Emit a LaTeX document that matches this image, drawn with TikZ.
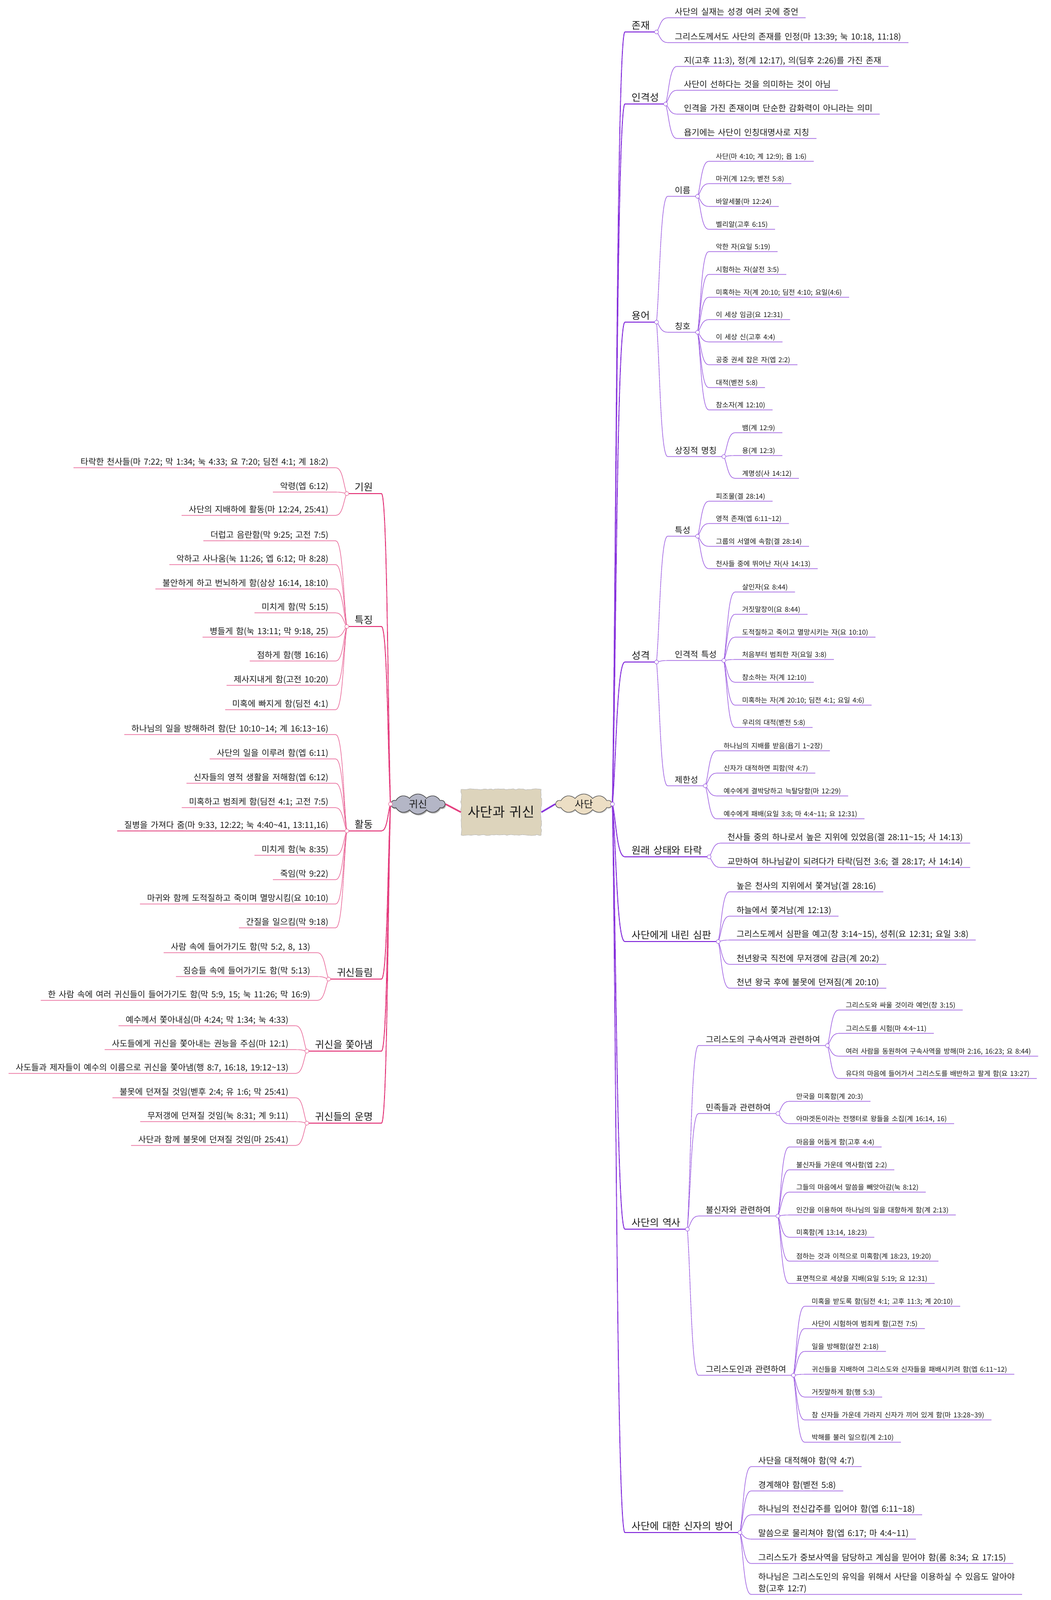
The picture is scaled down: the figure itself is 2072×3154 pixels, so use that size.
\documentclass[tikz,border=0pt]{standalone}
\usepackage{fontspec}
\setmainfont{Noto Sans CJK KR}[WordSpace=1.6]
\usetikzlibrary{calc,shapes.symbols,shadows,decorations.pathmorphing}

\definecolor{satan}{RGB}{155,90,225}
\definecolor{satandark}{RGB}{135,50,220}
\definecolor{demon}{RGB}{232,100,150}
\definecolor{demondark}{RGB}{228,60,125}
\definecolor{paper}{RGB}{221,212,188}
\definecolor{satanfill}{RGB}{236,222,196}
\definecolor{demonfill}{RGB}{180,182,198}
\definecolor{ink}{RGB}{25,25,25}

\newcommand\tld{\textasciitilde}

\begin{document}
\begin{tikzpicture}[x=1pt,y=-1pt,
	branch/.style={to path={.. controls ($(\tikztostart)!0.3!(\tikztotarget)$) and ($(\tikztostart |- \tikztotarget)!0.35!(\tikztotarget)$) .. (\tikztotarget)}},
	big/.style={font=\fontsize{19.5}{23}\selectfont, text=ink, text height=15pt, text depth=4pt, inner xsep=13pt, inner ysep=1.5pt},
	mid/.style={font=\fontsize{16.6}{19}\selectfont, text=ink, text height=12.5pt, text depth=3.5pt, inner xsep=14pt, inner ysep=1.5pt},
	small/.style={font=\fontsize{13.5}{16}\selectfont, text=ink, text height=10pt, text depth=3pt, inner xsep=14pt, inner ysep=1.5pt},
	rnode/.style={anchor=south west},
	lnode/.style={anchor=south east},
	sline/.style={satan, line width=1.1pt},
	strunk/.style={satandark, line width=1.8pt},
	dline/.style={demon, line width=1.1pt},
	dtrunk/.style={demondark, line width=1.8pt},
	hubdot/.style={circle, draw=#1, fill=white, line width=0.8pt, inner sep=0pt, minimum size=8pt}]
\useasboundingbox (0,0) rectangle (2072,3154);

% centre and the two clouds
\node[fill=paper, draw=gray!55, line width=0.8pt, minimum width=158pt, minimum height=90pt,
	decorate, decoration={random steps, segment length=5pt, amplitude=1.2pt},
	font=\fontsize{26.5}{30}\selectfont, text=ink] (main) at (988,1601) {사단과 귀신};
\node[cloud, cloud puffs=10, cloud puff arc=110, aspect=2.8, minimum width=110pt, minimum height=40pt, inner sep=0pt,
	draw=gray!60!black, fill=satanfill, line width=1pt, drop shadow={shadow xshift=1.5pt, shadow yshift=-2pt, fill=gray!55},
	font=\fontsize{19.5}{22}\selectfont, text=ink] (sadan) at (1151,1585) {사단};
\node[cloud, cloud puffs=10, cloud puff arc=110, aspect=2.8, minimum width=106pt, minimum height=40pt, inner sep=0pt,
	draw=gray!40!black, fill=demonfill, line width=1pt, drop shadow={shadow xshift=1.5pt, shadow yshift=-2.5pt, fill=gray!75!black},
	font=\fontsize{19.5}{22}\selectfont, text=ink] (gwisin) at (824,1585) {귀신};
\draw[demondark, line width=3pt] (gwisin.east) -- (main.west);
\draw[satandark, line width=3pt] (main.east) -- (sadan.west);
\coordinate (rhub) at (sadan.east);
\coordinate (lhub) at (gwisin.west);

% ---------- 사단 ----------

% 존재
\node[big, rnode] (jonjae) at (1232,63) {존재};
\draw[strunk] (rhub) to[branch] (jonjae.south west) -- (jonjae.south east);
\foreach \y/\txt [count=\i] in {35/{사단의 실재는 성경 여러 곳에 증언},
	84/{그리스도께서도 사단의 존재를 인정(마 13:39; 눅 10:18, 11:18)}} {
	\node[mid, rnode] (jonjae-\i) at ($(jonjae.south east |- 0,\y)+(22,0)$) {\txt};
	\draw[sline] (jonjae.south east) to[branch] (jonjae-\i.south west) -- (jonjae-\i.south east);
}

% 인격성
\node[big, rnode] (ingyeok) at (1232,205) {인격성};
\draw[strunk] (rhub) to[branch] (ingyeok.south west) -- (ingyeok.south east);
\foreach \y/\txt [count=\i] in {131/{지(고후 11:3), 정(계 12:17), 의(딤후 2:26)를 가진 존재},
	178/{사단이 선하다는 것을 의미하는 것이 아님},
	225/{인격을 가진 존재이며 단순한 감화력이 아니라는 의미},
	273/{욥기에는 사단이 인칭대명사로 지칭}} {
	\node[mid, rnode] (ingyeok-\i) at ($(ingyeok.south east |- 0,\y)+(22,0)$) {\txt};
	\draw[sline] (ingyeok.south east) to[branch] (ingyeok-\i.south west) -- (ingyeok-\i.south east);
}

% 용어
\node[big, rnode] (yongeo) at (1232,635) {용어};
\draw[strunk] (rhub) to[branch] (yongeo.south west) -- (yongeo.south east);
\foreach \nm/\y/\txt in {ireum/387/이름, chingho/655/칭호, sangjing/900/상징적 명칭} {
	\node[mid, rnode] (\nm) at ($(yongeo.south east |- 0,\y)+(22,0)$) {\txt};
	\draw[sline] (yongeo.south east) to[branch] (\nm.south west) -- (\nm.south east);
}
\foreach \y/\txt [count=\i] in {318/{사단(마 4:10; 계 12:9); 욥 1:6)}, 362/{마귀(계 12:9; 벧전 5:8)},
	407/{바알세불(마 12:24)}, 452/{벨리알(고후 6:15)}} {
	\node[small, rnode] (ireum-\i) at ($(ireum.south east |- 0,\y)+(22,0)$) {\txt};
	\draw[sline] (ireum.south east) to[branch] (ireum-\i.south west) -- (ireum-\i.south east);
}
\foreach \y/\txt [count=\i] in {496/{악한 자(요일 5:19)}, 541/{시험하는 자(살전 3:5)},
	586/{미혹하는 자(계 20:10; 딤전 4:10; 요일(4:6)}, 630/{이 세상 임금(요 12:31)},
	674/{이 세상 신(고후 4:4)}, 719/{공중 권세 잡은 자(엡 2:2)},
	764/{대적(벧전 5:8)}, 808/{참소자(계 12:10)}} {
	\node[small, rnode] (chingho-\i) at ($(chingho.south east |- 0,\y)+(22,0)$) {\txt};
	\draw[sline] (chingho.south east) to[branch] (chingho-\i.south west) -- (chingho-\i.south east);
}
\foreach \y/\txt [count=\i] in {853/{뱀(계 12:9)}, 898/{용(계 12:3)}, 943/{계명성(사 14:12)}} {
	\node[small, rnode] (sangjing-\i) at ($(sangjing.south east |- 0,\y)+(22,0)$) {\txt};
	\draw[sline] (sangjing.south east) to[branch] (sangjing-\i.south west) -- (sangjing-\i.south east);
}

% 성격
\node[big, rnode] (seonggyeok) at (1232,1305) {성격};
\draw[strunk] (rhub) to[branch] (seonggyeok.south west) -- (seonggyeok.south east);
\foreach \nm/\y/\txt in {teukseong/1057/특성, ingyeokteuk/1302/인격적 특성, jehan/1549/제한성} {
	\node[mid, rnode] (\nm) at ($(seonggyeok.south east |- 0,\y)+(22,0)$) {\txt};
	\draw[sline] (seonggyeok.south east) to[branch] (\nm.south west) -- (\nm.south east);
}
\foreach \y/\txt [count=\i] in {988/{피조물(겔 28:14)}, 1032/{영적 존재(엡 6:11\tld12)},
	1077/{그룹의 서열에 속함(겔 28:14)}, 1121/{천사들 중에 뛰어난 자(사 14:13)}} {
	\node[small, rnode] (teukseong-\i) at ($(teukseong.south east |- 0,\y)+(22,0)$) {\txt};
	\draw[sline] (teukseong.south east) to[branch] (teukseong-\i.south west) -- (teukseong-\i.south east);
}
\foreach \y/\txt [count=\i] in {1167/{살인자(요 8:44)}, 1211/{거짓말장이(요 8:44)},
	1256/{도적질하고 죽이고 멸망시키는 자(요 10:10)}, 1300/{처음부터 범죄한 자(요일 3:8)},
	1345/{참소하는 자(계 12:10)}, 1390/{미혹하는 자(계 20:10; 딤전 4:1; 요일 4:6)},
	1434/{우리의 대적(벧전 5:8)}} {
	\node[small, rnode] (ingyeokteuk-\i) at ($(ingyeokteuk.south east |- 0,\y)+(22,0)$) {\txt};
	\draw[sline] (ingyeokteuk.south east) to[branch] (ingyeokteuk-\i.south west) -- (ingyeokteuk-\i.south east);
}
\foreach \y/\txt [count=\i] in {1480/{하나님의 지배를 받음(욥기 1\tld2장)}, 1524/{신자가 대적하면 피함(약 4:7)},
	1569/{예수에게 결박당하고 늑탈당함(마 12:29)}, 1614/{예수에게 패배(요일 3:8; 마 4:4\tld11; 요 12:31)}} {
	\node[small, rnode] (jehan-\i) at ($(jehan.south east |- 0,\y)+(22,0)$) {\txt};
	\draw[sline] (jehan.south east) to[branch] (jehan-\i.south west) -- (jehan-\i.south east);
}

% 원래 상태와 타락
\node[big, rnode] (wonrae) at (1232,1689) {원래 상태와 타락};
\draw[strunk] (rhub) to[branch] (wonrae.south west) -- (wonrae.south east);
\foreach \y/\txt [count=\i] in {1662/{천사들 중의 하나로서 높은 지위에 있었음(겔 28:11\tld15; 사 14:13)},
	1710/{교만하여 하나님같이 되려다가 타락(딤전 3:6; 겔 28:17; 사 14:14)}} {
	\node[mid, rnode] (wonrae-\i) at ($(wonrae.south east |- 0,\y)+(22,0)$) {\txt};
	\draw[sline] (wonrae.south east) to[branch] (wonrae-\i.south west) -- (wonrae-\i.south east);
}

% 사단에게 내린 심판
\node[big, rnode] (simpan) at (1232,1856) {사단에게 내린 심판};
\draw[strunk] (rhub) to[branch] (simpan.south west) -- (simpan.south east);
\foreach \y/\txt [count=\i] in {1758/{높은 천사의 지위에서 쫓겨남(겔 28:16)}, 1806/{하늘에서 쫓겨남(계 12:13)},
	1853/{그리스도께서 심판을 예고(창 3:14\tld15), 성취(요 12:31; 요일 3:8)},
	1901/{천년왕국 직전에 무저갱에 감금(계 20:2)}, 1948/{천년 왕국 후에 불못에 던져짐(계 20:10)}} {
	\node[mid, rnode] (simpan-\i) at ($(simpan.south east |- 0,\y)+(22,0)$) {\txt};
	\draw[sline] (simpan.south east) to[branch] (simpan-\i.south west) -- (simpan-\i.south east);
}

% 사단의 역사
\node[big, rnode] (yeoksa) at (1232,2423) {사단의 역사};
\draw[strunk] (rhub) to[branch] (yeoksa.south west) -- (yeoksa.south east);
\foreach \nm/\y/\txt in {guseok/2061/그리스도의 구속사역과 관련하여, minjok/2195/민족들과 관련하여,
	bulsin/2397/불신자와 관련하여, sindo/2711/그리스도인과 관련하여} {
	\node[mid, rnode] (\nm) at ($(yeoksa.south east |- 0,\y)+(22,0)$) {\txt};
	\draw[sline] (yeoksa.south east) to[branch] (\nm.south west) -- (\nm.south east);
}
\foreach \y/\txt [count=\i] in {1991/{그리스도와 싸울 것이라 예언(창 3:15)}, 2037/{그리스도를 시험(마 4:4\tld11)},
	2082/{여러 사람을 동원하여 구속사역을 방해(마 2:16, 16:23; 요 8:44)},
	2126/{유다의 마음에 들어가서 그리스도를 배반하고 팔게 함(요 13:27)}} {
	\node[small, rnode] (guseok-\i) at ($(guseok.south east |- 0,\y)+(22,0)$) {\txt};
	\draw[sline] (guseok.south east) to[branch] (guseok-\i.south west) -- (guseok-\i.south east);
}
\foreach \y/\txt [count=\i] in {2171/{만국을 미혹함(계 20:3)}, 2215/{아마겟돈이라는 전쟁터로 왕들을 소집(계 16:14, 16)}} {
	\node[small, rnode] (minjok-\i) at ($(minjok.south east |- 0,\y)+(22,0)$) {\txt};
	\draw[sline] (minjok.south east) to[branch] (minjok-\i.south west) -- (minjok-\i.south east);
}
\foreach \y/\txt [count=\i] in {2261/{마음을 어둡게 함(고후 4:4)}, 2306/{불신자들 가운데 역사함(엡 2:2)},
	2350/{그들의 마음에서 말씀을 빼앗아감(눅 8:12)}, 2395/{인간을 이용하여 하나님의 일을 대항하게 함(계 2:13)},
	2439/{미혹함(계 13:14, 18:23)}, 2486/{점하는 것과 이적으로 미혹함(계 18:23, 19:20)},
	2530/{표면적으로 세상을 지배(요일 5:19; 요 12:31)}} {
	\node[small, rnode] (bulsin-\i) at ($(bulsin.south east |- 0,\y)+(22,0)$) {\txt};
	\draw[sline] (bulsin.south east) to[branch] (bulsin-\i.south west) -- (bulsin-\i.south east);
}
\foreach \y/\txt [count=\i] in {2575/{미혹을 받도록 함(딤전 4:1; 고후 11:3; 계 20:10)}, 2619/{사단이 시험하여 범죄케 함(고전 7:5)},
	2664/{일을 방해함(살전 2:18)}, 2709/{귀신들을 지배하여 그리스도와 신자들을 패배시키려 함(엡 6:11\tld12)},
	2754/{거짓말하게 함(행 5:3)}, 2799/{참 신자들 가운데 가라지 신자가 끼어 있게 함(마 13:28\tld39)},
	2843/{박해를 불러 일으킴(계 2:10)}} {
	\node[small, rnode] (sindo-\i) at ($(sindo.south east |- 0,\y)+(22,0)$) {\txt};
	\draw[sline] (sindo.south east) to[branch] (sindo-\i.south west) -- (sindo-\i.south east);
}

% 사단에 대한 신자의 방어
\node[big, rnode] (bangeo) at (1232,3021) {사단에 대한 신자의 방어};
\draw[strunk] (rhub) to[branch] (bangeo.south west) -- (bangeo.south east);
\foreach \y/\txt [count=\i] in {2891/{사단을 대적해야 함(약 4:7)}, 2939/{경계해야 함(벧전 5:8)},
	2986/{하나님의 전신갑주를 입어야 함(엡 6:11\tld18)}, 3034/{말씀으로 물리쳐야 함(엡 6:17; 마 4:4\tld11)},
	3082/{그리스도가 중보사역을 담당하고 계심을 믿어야 함(롬 8:34; 요 17:15)}} {
	\node[mid, rnode] (bangeo-\i) at ($(bangeo.south east |- 0,\y)+(22,0)$) {\txt};
	\draw[sline] (bangeo.south east) to[branch] (bangeo-\i.south west) -- (bangeo-\i.south east);
}
\node[rnode, font=\fontsize{16.6}{23}\selectfont, text=ink, align=left, inner xsep=14pt, inner ysep=2pt] (bangeo-6)
	at ($(bangeo.south east |- 0,3143)+(22,0)$) {하나님은 그리스도인의 유익을 위해서 사단을 이용하실 수 있음도 알아야\\함(고후 12:7)};
\draw[sline] (bangeo.south east) to[branch] (bangeo-6.south west) -- (bangeo-6.south east);

\foreach \nm in {jonjae, ingyeok, yongeo, ireum, chingho, sangjing, seonggyeok, teukseong, ingyeokteuk, jehan,
	wonrae, simpan, yeoksa, guseok, minjok, bulsin, sindo, bangeo}
	\node[hubdot=satan] at (\nm.south east) {};

% ---------- 귀신 ----------

% 기원
\node[big, lnode, inner xsep=16pt] (giwon) at (752,973) {기원};
\draw[dtrunk] (lhub) to[branch] (giwon.south east) -- (giwon.south west);
\foreach \y/\txt [count=\i] in {922/{타락한 천사들(마 7:22; 막 1:34; 눅 4:33; 요 7:20; 딤전 4:1; 계 18:2)},
	970/{악령(엡 6:12)}, 1016/{사단의 지배하에 활동(마 12:24, 25:41)}} {
	\node[mid, lnode] (giwon-\i) at ($(giwon.south west |- 0,\y)+(-22,0)$) {\txt};
	\draw[dline] (giwon.south west) to[branch] (giwon-\i.south east) -- (giwon-\i.south west);
}

% 특징
\node[big, lnode, inner xsep=16pt] (teukjing) at (752,1235) {특징};
\draw[dtrunk] (lhub) to[branch] (teukjing.south east) -- (teukjing.south west);
\foreach \y/\txt [count=\i] in {1066/{더럽고 음란함(막 9:25; 고전 7:5)}, 1113/{악하고 사나움(눅 11:26; 엡 6:12; 마 8:28)},
	1161/{불안하게 하고 번뇌하게 함(삼상 16:14, 18:10)}, 1208/{미치게 함(막 5:15)},
	1256/{병들게 함(눅 13:11; 막 9:18, 25)}, 1303/{점하게 함(행 16:16)},
	1351/{제사지내게 함(고전 10:20)}, 1399/{미혹에 빠지게 함(딤전 4:1)}} {
	\node[mid, lnode] (teukjing-\i) at ($(teukjing.south west |- 0,\y)+(-22,0)$) {\txt};
	\draw[dline] (teukjing.south west) to[branch] (teukjing-\i.south east) -- (teukjing-\i.south west);
}

% 활동
\node[big, lnode, inner xsep=16pt] (hwaldong) at (752,1638) {활동};
\draw[dtrunk] (lhub) to[branch] (hwaldong.south east) -- (hwaldong.south west);
\foreach \y/\txt [count=\i] in {1448/{하나님의 일을 방해하려 함(단 10:10\tld14; 계 16:13\tld16)},
	1496/{사단의 일을 이루려 함(엡 6:11)}, 1544/{신자들의 영적 생활을 저해함(엡 6:12)},
	1592/{미혹하고 범죄케 함(딤전 4:1; 고전 7:5)},
	1638/{질병을 가져다 줌(마 9:33, 12:22; 눅 4:40\tld41, 13:11,16)},
	1686/{미치게 함(눅 8:35)}, 1734/{죽임(막 9:22)},
	1782/{마귀와 함께 도적질하고 죽이며 멸망시킴(요 10:10)}, 1829/{간질을 일으킴(막 9:18)}} {
	\node[mid, lnode] (hwaldong-\i) at ($(hwaldong.south west |- 0,\y)+(-22,0)$) {\txt};
	\draw[dline] (hwaldong.south west) to[branch] (hwaldong-\i.south east) -- (hwaldong-\i.south west);
}

% 귀신들림
\node[big, lnode, inner xsep=16pt] (deullim) at (752,1930) {귀신들림};
\draw[dtrunk] (lhub) to[branch] (deullim.south east) -- (deullim.south west);
\foreach \y/\txt [count=\i] in {1878/{사람 속에 들어가기도 함(막 5:2, 8, 13)}, 1925/{짐승들 속에 들어가기도 함(막 5:13)},
	1972/{한 사람 속에 여러 귀신들이 들어가기도 함(막 5:9, 15; 눅 11:26; 막 16:9)}} {
	\node[mid, lnode] (deullim-\i) at ($(deullim.south west |- 0,\y)+(-22,0)$) {\txt};
	\draw[dline] (deullim.south west) to[branch] (deullim-\i.south east) -- (deullim-\i.south west);
}

% 귀신을 쫓아냄
\node[big, lnode, inner xsep=16pt] (jjochanaem) at (752,2072) {귀신을 쫓아냄};
\draw[dtrunk] (lhub) to[branch] (jjochanaem.south east) -- (jjochanaem.south west);
\foreach \y/\txt [count=\i] in {2022/{예수께서 쫓아내심(마 4:24; 막 1:34; 눅 4:33)},
	2069/{사도들에게 귀신을 쫓아내는 권능을 주심(마 12:1)},
	2116/{사도들과 제자들이 예수의 이름으로 귀신을 쫓아냄(행 8:7, 16:18, 19:12\tld13)}} {
	\node[mid, lnode] (jjochanaem-\i) at ($(jjochanaem.south west |- 0,\y)+(-22,0)$) {\txt};
	\draw[dline] (jjochanaem.south west) to[branch] (jjochanaem-\i.south east) -- (jjochanaem-\i.south west);
}

% 귀신들의 운명
\node[big, lnode, inner xsep=16pt] (unmyeong) at (752,2214) {귀신들의 운명};
\draw[dtrunk] (lhub) to[branch] (unmyeong.south east) -- (unmyeong.south west);
\foreach \y/\txt [count=\i] in {2164/{불못에 던져질 것임(벧후 2:4; 유 1:6; 막 25:41)},
	2211/{무저갱에 던져질 것임(눅 8:31; 계 9:11)}, 2258/{사단과 함께 불못에 던져질 것임(마 25:41)}} {
	\node[mid, lnode] (unmyeong-\i) at ($(unmyeong.south west |- 0,\y)+(-22,0)$) {\txt};
	\draw[dline] (unmyeong.south west) to[branch] (unmyeong-\i.south east) -- (unmyeong-\i.south west);
}

\foreach \nm in {giwon, teukjing, hwaldong, deullim, jjochanaem, unmyeong}
	\node[hubdot=demon] at (\nm.south west) {};

\node[hubdot=satan] at (rhub) {};
\node[hubdot=demon] at (lhub) {};

\end{tikzpicture}
\end{document}
